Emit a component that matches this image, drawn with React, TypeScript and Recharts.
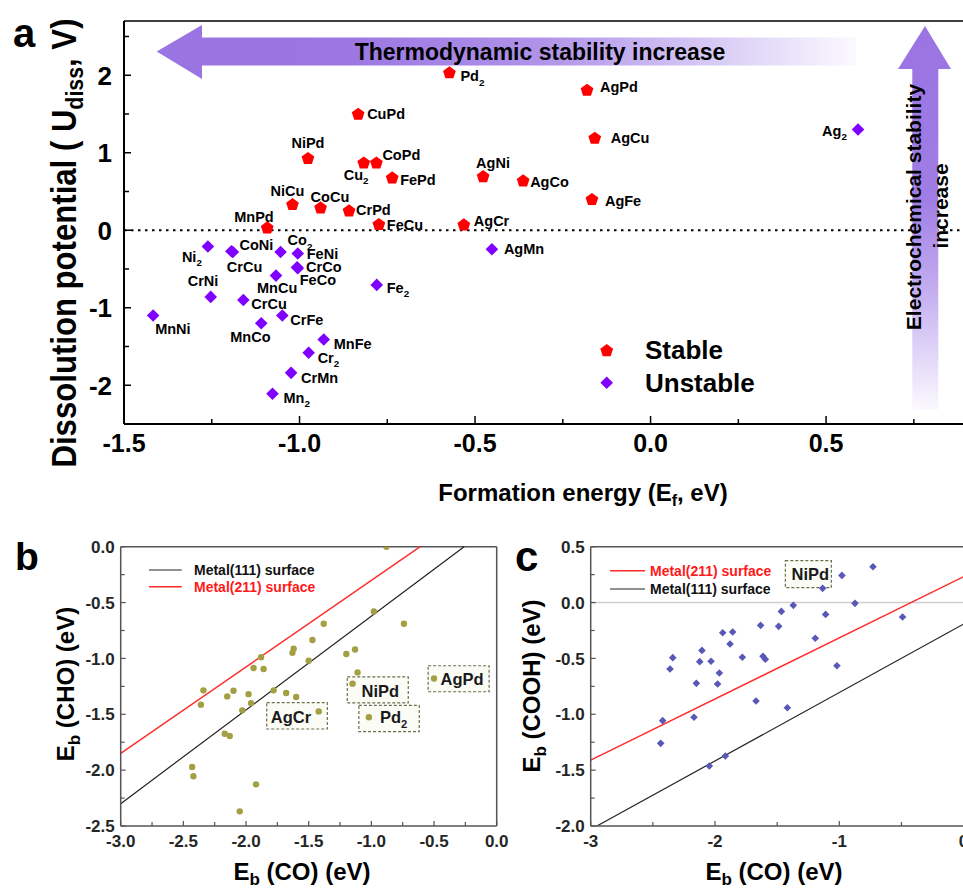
import React from "react";
import { ScatterChart, Scatter, XAxis, YAxis, ReferenceLine } from "recharts";

const FONT = "'Liberation Sans', Arial, Helvetica, sans-serif";

// ---- panel a: formation energy vs dissolution potential ----
const stableNames = ["Pd2", "CuPd", "NiPd", "Cu2", "CoPd", "FePd", "NiCu", "CoCu", "CrPd", "MnPd", "FeCu", "AgCr", "AgPd", "AgCu", "AgNi", "AgCo", "AgFe"];
const stableEf = [-0.573, -0.833, -0.976, -0.817, -0.781, -0.736, -1.02, -0.94, -0.859, -1.092, -0.774, -0.532, -0.181, -0.159, -0.477, -0.363, -0.167];
const stableU = [2.04, 1.506, 0.934, 0.877, 0.877, 0.684, 0.34, 0.297, 0.258, 0.039, 0.082, 0.078, 1.815, 1.196, 0.7, 0.645, 0.405];

const unstableNames = ["Ni2", "CoNi", "CrCu", "Co2", "FeNi", "CrCo", "FeCo", "MnCu", "CrNi", "CrCu", "MnNi", "MnCo", "CrFe", "MnFe", "Cr2", "CrMn", "Mn2", "Fe2", "AgMn", "Ag2"];
const unstableEf = [-1.261, -1.194, -1.19, -1.054, -1.005, -1.007, -1.005, -1.067, -1.253, -1.16, -1.417, -1.109, -1.049, -0.931, -0.974, -1.024, -1.077, -0.78, -0.452, 0.591];
const unstableU = [-0.21, -0.27, -0.28, -0.28, -0.3, -0.477, -0.49, -0.585, -0.86, -0.9, -1.1, -1.2, -1.1, -1.41, -1.58, -1.84, -2.11, -0.705, -0.245, 1.3];

const aXTicks = [-1.5, -1.25, -1.0, -0.75, -0.5, -0.25, 0, 0.25, 0.5, 0.75];
const aXLabels = [-1.5, -1.0, -0.5, 0, 0.5];
const aYTicks = [-2.5, -2, -1.5, -1, -0.5, 0, 0.5, 1, 1.5, 2, 2.5];
const aYLabels = [-2, -1, 0, 1, 2];

// ---- panel b: CO vs CHO binding ----
const bCO = [-0.88, -0.98, -0.74, -1.38, -1.47, -1.62, -1.63, -1.13, -1.2, -1.5, -1.11, -1.15, -1.88, -1.94, -1.86, -2.34, -2.36, -2.15, -2.1, -1.98, -1.96, -2.03, -1.78, -1.68, -1.6, -1.42, -1.02, -0.5, -2.17, -2.13, -2.43, -2.42, -1.92, -2.05];
const bCHO = [0.0, -0.58, -0.69, -0.69, -0.835, -0.913, -0.95, -0.92, -0.96, -1.02, -1.125, -1.226, -0.99, -1.086, -1.095, -1.286, -1.414, -1.34, -1.29, -1.32, -1.4, -1.465, -1.286, -1.31, -1.345, -1.474, -1.527, -1.18, -1.674, -1.695, -1.972, -2.055, -2.127, -2.369];
const bTags = ["", "", "", "", "", "", "", "", "", "", "", "NiPd", "", "", "", "", "", "", "", "", "", "", "", "", "", "AgCr", "Pd2", "AgPd", "", "", "", "", "", ""];
const b111X = [-3.0, -0.26];
const b111Y = [-2.3, 0.0];
const b211X = [-3.0, -0.61];
const b211Y = [-1.85, 0.0];
const bXTicks = [-3, -2.75, -2.5, -2.25, -2, -1.75, -1.5, -1.25, -1, -0.75, -0.5, -0.25, 0];
const bXLabels = [-3, -2.5, -2, -1.5, -1, -0.5, 0];
const bYTicks = [-2.5, -2.25, -2, -1.75, -1.5, -1.25, -1, -0.75, -0.5, -0.25, 0];
const bYLabels = [-2.5, -2, -1.5, -1, -0.5, 0];

// ---- panel c: CO vs COOH binding ----
const cCO = [-0.729, -0.979, -1.134, -0.874, -1.11, -0.491, -1.37, -1.466, -1.488, -1.633, -1.193, -1.019, -1.938, -1.858, -1.879, -2.105, -2.34, -1.78, -1.614, -1.595, -2.123, -2.032, -2.362, -1.965, -2.15, -1.979, -1.67, -1.418, -2.169, -2.421, -2.437, -1.917, -2.046];
const cCOOH = [0.321, 0.243, 0.127, -0.007, -0.106, -0.129, -0.025, -0.079, -0.213, -0.204, -0.32, -0.565, -0.27, -0.264, -0.371, -0.428, -0.493, -0.49, -0.481, -0.508, -0.529, -0.526, -0.595, -0.631, -0.723, -0.729, -0.881, -0.941, -1.027, -1.057, -1.26, -1.373, -1.463];
const cTags = ["", "", "NiPd"];
const c211X = [-3.0, 0.0];
const c211Y = [-1.41, 0.231];
const c111X = [-2.95, 0.0];
const c111Y = [-2.0, -0.192];
const cXTicks = [-3, -2.5, -2, -1.5, -1, -0.5, 0];
const cXLabels = [-3, -2, -1, 0];
const cYTicks = [-2, -1.75, -1.5, -1.25, -1, -0.75, -0.5, -0.25, 0, 0.25, 0.5];
const cYLabels = [-2, -1.5, -1, -0.5, 0, 0.5];

// label placement (dx, dy from marker centre, anchor)
type Place = [number, number, "start" | "middle" | "end"];
const stablePlace: Place[] = [
  [11, 4, "start"], [9, 0, "start"], [0, -15, "middle"], [-20, 12, "start"], [6, -8, "start"],
  [8, 3, "start"], [-5, -13, "middle"], [-10, -10, "start"], [7, 0, "start"], [-33, -10, "start"],
  [8, 1, "start"], [10, -3, "start"], [13, -3, "start"], [16, 0, "start"], [-7, -13, "start"],
  [7, 2, "start"], [13, 2, "start"],
];
const unstablePlace: Place[] = [
  [-26, 10, "start"], [8, -6, "start"], [-6, 15, "start"], [7, -12, "start"], [9, 0, "start"],
  [9, 0, "start"], [2, 12, "start"], [-19, 12, "start"], [-23, -16, "start"], [8, 4, "start"],
  [2, 13, "start"], [-31, 14, "start"], [8, 4, "start"], [10, 4, "start"], [9, 5, "start"],
  [10, 5, "start"], [11, 4, "start"], [10, 3, "start"], [12, 0, "start"], [-36, 1, "start"],
];
// dashed tag boxes: [left, top, width, height, textX, textY] relative to point
const tagBox: Record<string, number[]> = {
  "b:AgCr": [-52, -8.7, 60.6, 26.3, -27.7, 6],
  "b:NiPd": [-5.3, -6.7, 61, 26, 27.7, 7],
  "b:Pd2": [-10, -12, 60.4, 26.4, 24.7, 0],
  "b:AgPd": [-5.9, -12.8, 61, 26, 28, 0.5],
  "c:NiPd": [-37.3, -27.7, 46, 27, -12.3, -14],
};

const stableData = stableNames.map((n, i) => ({ id: i, name: n, x: stableEf[i], y: stableU[i] }));
const unstableData = unstableNames.map((n, i) => ({ id: i, name: n, x: unstableEf[i], y: unstableU[i] }));
const bData = bCO.map((v, i) => ({ id: i, tag: bTags[i] || "", x: v, y: bCHO[i] }));
const cData = cCO.map((v, i) => ({ id: i, tag: cTags[i] || "", x: v, y: cCOOH[i] }));

function Name({ x, y, name, size, anchor, fill = "#000" }: any) {
  const m = name.match(/^(.*?)(\d)$/);
  const base = m ? m[1] : name;
  const sub = m ? m[2] : null;
  return (
    <text x={x} y={y + size * 0.36} fontSize={size} fontWeight="bold" fontFamily={FONT} textAnchor={anchor} fill={fill}>
      {base}
      {sub && (
        <tspan fontSize={size * 0.68} dy={size * 0.3}>
          {sub}
        </tspan>
      )}
    </text>
  );
}

function pentagonPts(cx: number, cy: number, r: number) {
  return [0, 1, 2, 3, 4]
    .map((i) => {
      const a = -Math.PI / 2 + (i * 2 * Math.PI) / 5;
      return `${cx + r * Math.cos(a)},${cy + r * Math.sin(a)}`;
    })
    .join(" ");
}
function diamondPts(cx: number, cy: number, r: number) {
  return `${cx},${cy - r} ${cx + r},${cy} ${cx},${cy + r} ${cx - r},${cy}`;
}

const StableShape = (p: any) => {
  const [dx, dy, anchor] = stablePlace[p.payload.id];
  return (
    <g>
      <polygon points={pentagonPts(p.cx, p.cy + 0.8, 6.7)} fill="#ff0000" />
      <Name x={p.cx + dx} y={p.cy + dy} name={p.payload.name} size={14.5} anchor={anchor} />
    </g>
  );
};
const UnstableShape = (p: any) => {
  const [dx, dy, anchor] = unstablePlace[p.payload.id];
  return (
    <g>
      <polygon points={diamondPts(p.cx, p.cy, 6.3)} fill="#8000ff" />
      <Name x={p.cx + dx} y={p.cy + dy} name={p.payload.name} size={14.5} anchor={anchor} />
    </g>
  );
};

function Tag({ cx, cy, box, name }: any) {
  return (
    <g>
      <rect x={cx + box[0]} y={cy + box[1]} width={box[2]} height={box[3]} fill="#fcfcf6" stroke="#6d6d4c" strokeWidth={1.2} strokeDasharray="3 2" />
      <Name x={cx + box[4]} y={cy + box[5]} name={name} size={16.5} anchor="middle" fill="#1a1a1a" />
    </g>
  );
}

const CircleShape = (p: any) => {
  const box = p.payload.tag ? tagBox["b:" + p.payload.tag] : null;
  return (
    <g>
      {box && <Tag cx={p.cx} cy={p.cy} box={box} name={p.payload.tag} />}
      <circle cx={p.cx} cy={p.cy} r={3.2} fill="#a3a044" />
    </g>
  );
};
const SmallDiamond = (p: any) => {
  const box = p.payload.tag ? tagBox["c:" + p.payload.tag] : null;
  return (
    <g>
      {box && <Tag cx={p.cx} cy={p.cy} box={box} name={p.payload.tag} />}
      <polygon points={diamondPts(p.cx, p.cy, 3.8)} fill="#5858b6" />
    </g>
  );
};

interface TickStyle {
  labels: number[];
  fmt: (v: number) => string;
  size: number;
  color: string;
  major: number;
  minor: number;
  gap: number;
  stroke: string;
  width: number;
}
const isIn = (v: number, list: number[]) => list.some((l) => Math.abs(l - v) < 1e-6);

function leftTick(s: TickStyle) {
  return (p: any) => {
    const v = Number(p.payload.value);
    const lab = isIn(v, s.labels);
    const ax = p.x + s.gap;
    return (
      <g>
        <line x1={ax} x2={ax + (lab ? s.major : s.minor)} y1={p.y} y2={p.y} stroke={s.stroke} strokeWidth={s.width} />
        {lab && (
          <text x={p.x} y={p.y + s.size * 0.36} textAnchor="end" fontSize={s.size} fontWeight="bold" fill={s.color} fontFamily={FONT}>
            {s.fmt(v)}
          </text>
        )}
      </g>
    );
  };
}
function bottomTick(s: TickStyle) {
  return (p: any) => {
    const v = Number(p.payload.value);
    const lab = isIn(v, s.labels);
    const ay = p.y - s.gap;
    return (
      <g>
        <line x1={p.x} x2={p.x} y1={ay} y2={ay - (lab ? s.major : s.minor)} stroke={s.stroke} strokeWidth={s.width} />
        {lab && (
          <text x={p.x} y={p.y + s.size * 0.72} textAnchor="middle" fontSize={s.size} fontWeight="bold" fill={s.color} fontFamily={FONT}>
            {s.fmt(v)}
          </text>
        )}
      </g>
    );
  };
}

const aYStyle: TickStyle = { labels: aYLabels, fmt: (v) => String(v), size: 26, color: "#000", major: 7, minor: 5, gap: 12, stroke: "#000", width: 1.5 };
const aXStyle: TickStyle = { labels: aXLabels, fmt: (v) => v.toFixed(1), size: 25, color: "#000", major: 8, minor: 5, gap: 10, stroke: "#000", width: 1.5 };
const bYStyle: TickStyle = { labels: bYLabels, fmt: (v) => v.toFixed(1), size: 17, color: "#262626", major: 5, minor: 4, gap: 6, stroke: "#555", width: 1.2 };
const bXStyle: TickStyle = { labels: bXLabels, fmt: (v) => v.toFixed(1), size: 17, color: "#262626", major: 5, minor: 4, gap: 9, stroke: "#555", width: 1.2 };
const cYStyle: TickStyle = { ...bYStyle, labels: cYLabels };
const cXStyle: TickStyle = { ...bXStyle, labels: cXLabels, fmt: (v) => String(v) };

function PanelA() {
  return (
    <ScatterChart width={963} height={500} margin={{ top: 21, right: 0, left: 0, bottom: 16 }}>
      <XAxis type="number" dataKey="x" domain={[-1.5, 0.89]} ticks={aXTicks} interval={0} allowDataOverflow height={60}
        tickSize={0} tickMargin={aXStyle.gap} tickLine={false} tick={bottomTick(aXStyle)} axisLine={{ stroke: "#000", strokeWidth: 2 }} />
      <YAxis type="number" dataKey="y" domain={[-2.5, 2.7]} ticks={aYTicks} interval={0} allowDataOverflow width={124}
        tickSize={0} tickMargin={aYStyle.gap} tickLine={false} tick={leftTick(aYStyle)} axisLine={{ stroke: "#000", strokeWidth: 2 }} />
      <ReferenceLine y={2.7} stroke="#000" strokeWidth={1.5} />
      <ReferenceLine y={0} stroke="#000" strokeWidth={2} strokeDasharray="2.5 4.5" />
      <Scatter data={unstableData} shape={UnstableShape} isAnimationActive={false} />
      <Scatter data={stableData} shape={StableShape} isAnimationActive={false} />
    </ScatterChart>
  );
}

function PanelB() {
  return (
    <ScatterChart width={520} height={368} margin={{ top: 26.7, right: 23.3, left: 0, bottom: 22 }}>
      <XAxis type="number" dataKey="x" domain={[-3, 0]} ticks={bXTicks} interval={0} allowDataOverflow height={40}
        tickSize={0} tickMargin={bXStyle.gap} tickLine={false} tick={bottomTick(bXStyle)} axisLine={{ stroke: "#555", strokeWidth: 1.5 }} />
      <YAxis type="number" dataKey="y" domain={[-2.5, 0]} ticks={bYTicks} interval={0} allowDataOverflow width={120.7}
        tickSize={0} tickMargin={bYStyle.gap} tickLine={false} tick={leftTick(bYStyle)} axisLine={{ stroke: "#555", strokeWidth: 1.5 }} />
      <ReferenceLine y={0} stroke="#555" strokeWidth={1.5} />
      <ReferenceLine x={0} stroke="#555" strokeWidth={1.5} />
      <ReferenceLine segment={[{ x: b111X[0], y: b111Y[0] }, { x: b111X[1], y: b111Y[1] }]} stroke="#222" strokeWidth={1.2} />
      <ReferenceLine segment={[{ x: b211X[0], y: b211Y[0] }, { x: b211X[1], y: b211Y[1] }]} stroke="#ff2a2a" strokeWidth={1.4} />
      <Scatter data={bData} shape={CircleShape} isAnimationActive={false} />
    </ScatterChart>
  );
}

function PanelC() {
  return (
    <ScatterChart width={470} height={368} margin={{ top: 26.7, right: 6.4, left: 0, bottom: 22 }}>
      <XAxis type="number" dataKey="x" domain={[-3, 0]} ticks={cXTicks} interval={0} allowDataOverflow height={40}
        tickSize={0} tickMargin={cXStyle.gap} tickLine={false} tick={bottomTick(cXStyle)} axisLine={{ stroke: "#555", strokeWidth: 1.5 }} />
      <YAxis type="number" dataKey="y" domain={[-2, 0.5]} ticks={cYTicks} interval={0} allowDataOverflow width={90.7}
        tickSize={0} tickMargin={cYStyle.gap} tickLine={false} tick={leftTick(cYStyle)} axisLine={{ stroke: "#555", strokeWidth: 1.5 }} />
      <ReferenceLine y={0.5} stroke="#555" strokeWidth={1.5} />
      <ReferenceLine y={0} stroke="#cfcfcf" strokeWidth={1.5} />
      <ReferenceLine segment={[{ x: c211X[0], y: c211Y[0] }, { x: c211X[1], y: c211Y[1] }]} stroke="#ff2a2a" strokeWidth={1.4} />
      <ReferenceLine segment={[{ x: c111X[0], y: c111Y[0] }, { x: c111X[1], y: c111Y[1] }]} stroke="#222" strokeWidth={1.2} />
      <Scatter data={cData} shape={SmallDiamond} isAnimationActive={false} />
    </ScatterChart>
  );
}

function Overlay() {
  return (
    <svg width={963} height={888} style={{ position: "absolute", left: 0, top: 0, pointerEvents: "none" }} fontFamily={FONT} fontWeight="bold">
      <defs>
        <linearGradient id="hArrow" gradientUnits="userSpaceOnUse" x1={156} y1={0} x2={856} y2={0}>
          <stop offset="0" stopColor="#9a74e2" />
          <stop offset="0.27" stopColor="#9b76e2" />
          <stop offset="0.55" stopColor="#b093e9" />
          <stop offset="0.8" stopColor="#d8cbf5" />
          <stop offset="1" stopColor="#fbf9ff" />
        </linearGradient>
        <linearGradient id="vArrow" gradientUnits="userSpaceOnUse" x1={0} y1={26} x2={0} y2={410}>
          <stop offset="0" stopColor="#9a74e2" />
          <stop offset="0.45" stopColor="#a07de4" />
          <stop offset="0.7" stopColor="#c6b0f0" />
          <stop offset="1" stopColor="#fbf9ff" />
        </linearGradient>
      </defs>

      {/* panel a decorations */}
      <polygon points="156.7,51.5 202,25 202,37.5 856,37.5 856,65.5 202,65.5 202,79" fill="url(#hArrow)" />
      <text x={540} y={59.5} textAnchor="middle" fontSize={23}>Thermodynamic stability increase</text>
      <polygon points="925,26 951,69 938.3,69 938.3,410 912.3,410 912.3,69 898,69" fill="url(#vArrow)" />
      <text transform="translate(913,207) rotate(-90)" textAnchor="middle" dominantBaseline="central" fontSize={21}>Electrochemical stability</text>
      <text transform="translate(940,206) rotate(-90)" textAnchor="middle" dominantBaseline="central" fontSize={21}>increase</text>

      <polygon points={pentagonPts(606.7, 350.8, 6.7)} fill="#ff0000" />
      <text x={645} y={359.4} fontSize={26}>Stable</text>
      <polygon points={diamondPts(606.7, 382.7, 6.3)} fill="#8000ff" />
      <text x={645} y={392} fontSize={26}>Unstable</text>

      <text x={13} y={46.7} fontSize={40}>a</text>
      <text transform="translate(76,243) rotate(-90)" textAnchor="middle" fontSize={35} textLength={449} lengthAdjust="spacingAndGlyphs">
        Dissolution potential ( U<tspan fontSize={24} dy={7}>diss</tspan><tspan dy={-7}>, V)</tspan>
      </text>
      <text x={583} y={501} textAnchor="middle" fontSize={24}>
        Formation energy (E<tspan fontSize={16} dy={5}>f</tspan><tspan dy={-5}>, eV)</tspan>
      </text>

      {/* panel b */}
      <text x={15} y={570} fontSize={39}>b</text>
      <line x1={149} x2={181.7} y1={570} y2={570} stroke="#222" strokeWidth={1.2} />
      <text x={194} y={575} fontSize={14} fill="#111">Metal(111) surface</text>
      <line x1={149} x2={181.7} y1={586.7} y2={586.7} stroke="#ff2a2a" strokeWidth={1.4} />
      <text x={194} y={591.7} fontSize={14} fill="#ff1a1a">Metal(211) surface</text>
      <text transform="translate(74,684) rotate(-90)" textAnchor="middle" fontSize={24}>
        E<tspan fontSize={17} dy={6}>b</tspan><tspan dy={-6}> (CHO) (eV)</tspan>
      </text>
      <text x={302} y={880} textAnchor="middle" fontSize={24}>
        E<tspan fontSize={17} dy={5}>b</tspan><tspan dy={-5}> (CO) (eV)</tspan>
      </text>

      {/* panel c */}
      <text x={515} y={571} fontSize={42}>c</text>
      <line x1={610} x2={645} y1={570.7} y2={570.7} stroke="#ff2a2a" strokeWidth={1.4} />
      <text x={650} y={575.7} fontSize={14} fill="#ff1a1a">Metal(211) surface</text>
      <line x1={610} x2={645} y1={589} y2={589} stroke="#222" strokeWidth={1.2} />
      <text x={650} y={594} fontSize={14} fill="#111">Metal(111) surface</text>
      <text transform="translate(540,686) rotate(-90)" textAnchor="middle" fontSize={24}>
        E<tspan fontSize={17} dy={6}>b</tspan><tspan dy={-6}> (COOH) (eV)</tspan>
      </text>
      <text x={774} y={880} textAnchor="middle" fontSize={24}>
        E<tspan fontSize={17} dy={5}>b</tspan><tspan dy={-5}> (CO) (eV)</tspan>
      </text>
    </svg>
  );
}

export default function App() {
  return (
    <div style={{ position: "absolute", left: 0, top: 0, width: 963, height: 888, overflow: "hidden", background: "#fff", fontFamily: FONT }}>
      <div style={{ position: "absolute", left: 0, top: 0 }}>
        <PanelA />
      </div>
      <div style={{ position: "absolute", left: 0, top: 520 }}>
        <PanelB />
      </div>
      <div style={{ position: "absolute", left: 500, top: 520 }}>
        <PanelC />
      </div>
      <Overlay />
    </div>
  );
}
